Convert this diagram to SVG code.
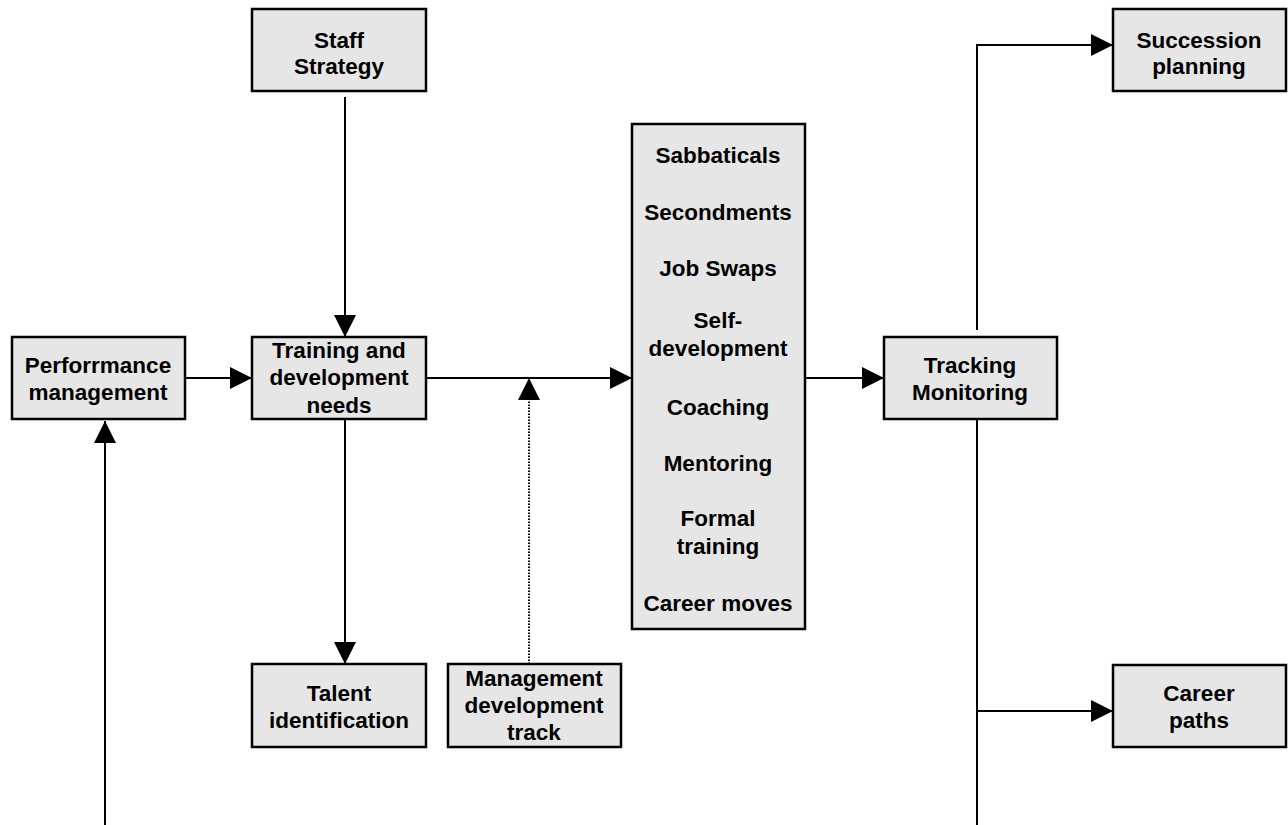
<svg xmlns="http://www.w3.org/2000/svg" width="1288" height="825" viewBox="0 0 1288 825">
  <style>
    .box { fill: #e6e6e6; stroke: #000; stroke-width: 2.5; }
    .lbl { font-family: "Liberation Sans", Arial, sans-serif; font-weight: bold; font-size: 22.5px; fill: #000; text-anchor: middle; }
    .wire { fill: none; stroke: #000; stroke-width: 2; }
    .dot { fill: none; stroke: #000; stroke-width: 2; stroke-dasharray: 1.5 1.5; }
  </style>
  <defs>
    <marker id="head" markerUnits="userSpaceOnUse" markerWidth="22" markerHeight="22" refX="22" refY="11" orient="auto">
      <path d="M0,0 L22,11 L0,22 Z" fill="#000"/>
    </marker>
  </defs>
  <rect width="1288" height="825" fill="#fff"/>

  <!-- connectors -->
  <g id="connectors">
    <line class="wire" x1="345" y1="97" x2="345" y2="337" marker-end="url(#head)"/>
    <line class="wire" x1="185" y1="378" x2="252" y2="378" marker-end="url(#head)"/>
    <line class="wire" x1="426" y1="378" x2="632" y2="378" marker-end="url(#head)"/>
    <line class="wire" x1="805" y1="378" x2="884" y2="378" marker-end="url(#head)"/>
    <line class="wire" x1="345" y1="413" x2="345" y2="664" marker-end="url(#head)"/>
    <line class="dot" x1="529" y1="664" x2="529" y2="378" marker-end="url(#head)"/>
    <line class="wire" x1="105" y1="825" x2="105" y2="421" marker-end="url(#head)"/>
    <polyline class="wire" points="977,330 977,45 1113,45" marker-end="url(#head)"/>
    <line class="wire" x1="977" y1="419" x2="977" y2="825"/>
    <line class="wire" x1="977" y1="711" x2="1113" y2="711" marker-end="url(#head)"/>
  </g>

  <g id="staff-strategy">
    <rect class="box" x="252" y="9" width="174" height="82"/>
    <text class="lbl" x="339" y="48">Staff</text>
    <text class="lbl" x="339" y="74">Strategy</text>
  </g>

  <g id="performance-management">
    <rect class="box" x="12" y="337" width="173" height="82"/>
    <text class="lbl" x="98" y="373">Perforrmance</text>
    <text class="lbl" x="98" y="400">management</text>
  </g>

  <g id="training-needs">
    <rect class="box" x="252" y="337" width="174" height="82"/>
    <text class="lbl" x="339" y="358">Training and</text>
    <text class="lbl" x="339" y="385">development</text>
    <text class="lbl" x="339" y="413">needs</text>
  </g>

  <g id="talent-identification">
    <rect class="box" x="252" y="664" width="174" height="83"/>
    <text class="lbl" x="339" y="701">Talent</text>
    <text class="lbl" x="339" y="728">identification</text>
  </g>

  <g id="management-track">
    <rect class="box" x="448" y="664" width="173" height="83"/>
    <text class="lbl" x="534" y="686">Management</text>
    <text class="lbl" x="534" y="713">development</text>
    <text class="lbl" x="534" y="740">track</text>
  </g>

  <g id="development-options">
    <rect class="box" x="632" y="124" width="173" height="505"/>
    <text class="lbl" x="718" y="163">Sabbaticals</text>
    <text class="lbl" x="718" y="220">Secondments</text>
    <text class="lbl" x="718" y="276">Job Swaps</text>
    <text class="lbl" x="718" y="328">Self-</text>
    <text class="lbl" x="718" y="356">development</text>
    <text class="lbl" x="718" y="415">Coaching</text>
    <text class="lbl" x="718" y="471">Mentoring</text>
    <text class="lbl" x="718" y="526">Formal</text>
    <text class="lbl" x="718" y="554">training</text>
    <text class="lbl" x="718" y="611">Career moves</text>
  </g>

  <g id="tracking-monitoring">
    <rect class="box" x="884" y="337" width="173" height="82"/>
    <text class="lbl" x="970" y="373">Tracking</text>
    <text class="lbl" x="970" y="400">Monitoring</text>
  </g>

  <g id="succession-planning">
    <rect class="box" x="1113" y="9" width="173" height="82"/>
    <text class="lbl" x="1199" y="48">Succession</text>
    <text class="lbl" x="1199" y="74">planning</text>
  </g>

  <g id="career-paths">
    <rect class="box" x="1113" y="665" width="173" height="82"/>
    <text class="lbl" x="1199" y="701">Career</text>
    <text class="lbl" x="1199" y="728">paths</text>
  </g>
</svg>
